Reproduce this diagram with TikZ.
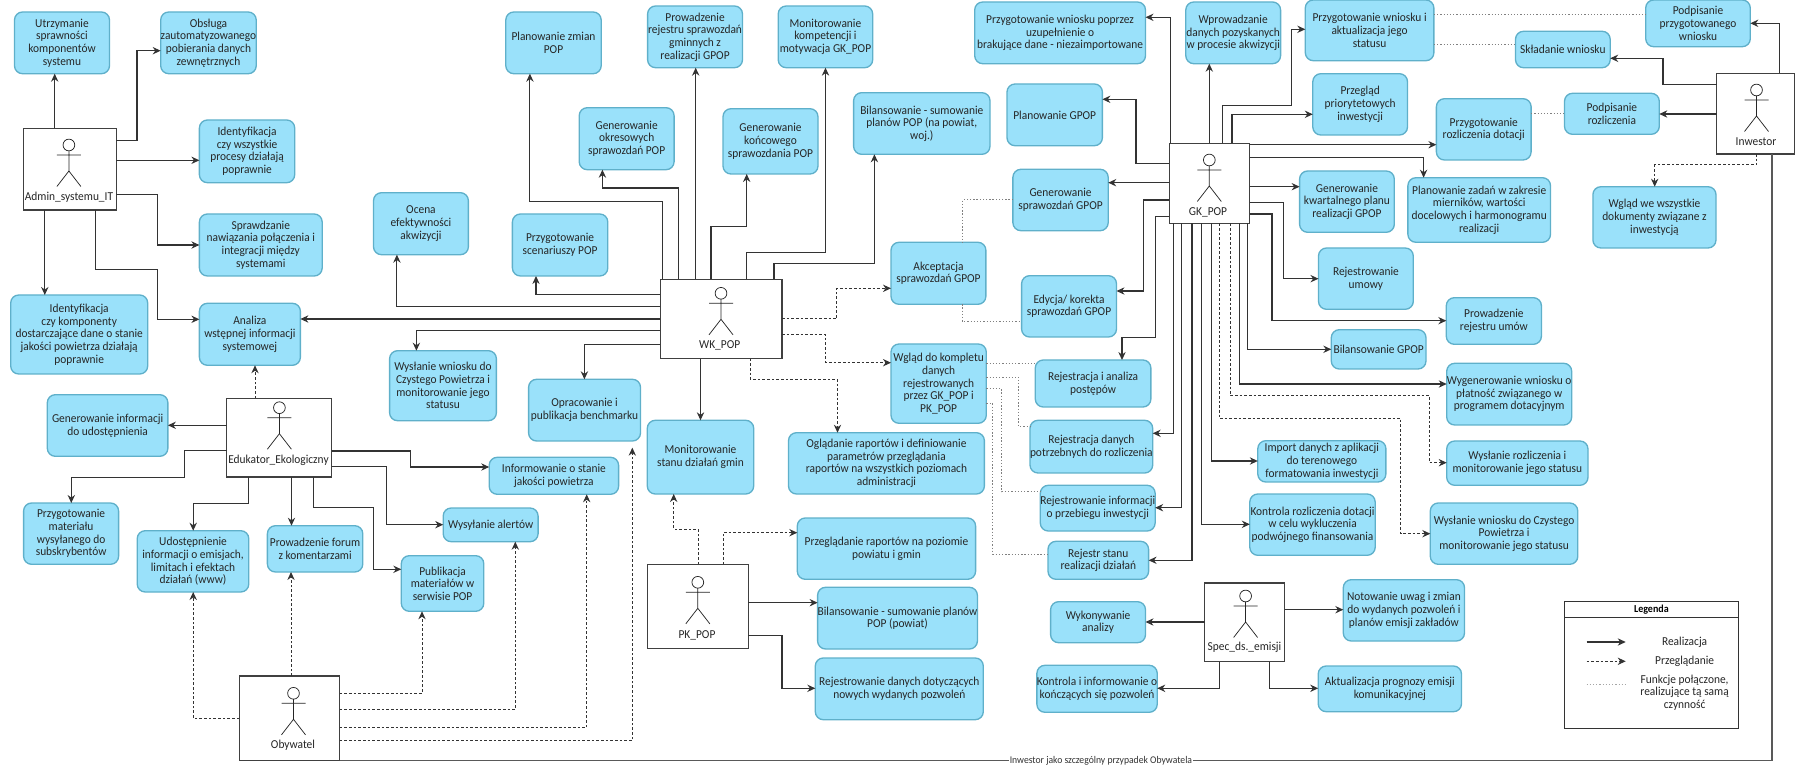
\documentclass[tikz,border=0pt]{standalone}
\usepackage{fontspec}
\setmainfont{Carlito}[FakeStretch=0.94]
\usetikzlibrary{arrows.meta}
\definecolor{ucfill}{HTML}{9AE1FA}
\definecolor{ucline}{HTML}{5FB0CA}
\definecolor{conn}{HTML}{333333}
\tikzset{
  ucbox/.style={draw=ucline,fill=ucfill,line width=1pt,rounded corners=6pt,align=center,inner sep=0pt,outer sep=0pt,text=black!85,
    font=\fontsize{9.1}{9.5}\selectfont,anchor=north west},
  actorbox/.style={draw=black!75,fill=white,line width=1pt,inner sep=0pt,outer sep=0pt,anchor=north west},
  actorname/.style={inner sep=0pt,font=\fontsize{9.1}{9.5}\selectfont,text=black!85},
  fig/.style={draw=black!85,line width=.55pt,fill=none},
  real/.style={draw=conn,line width=.8pt,-{Stealth[length=6pt,width=5.5pt]}},
  view/.style={draw=conn,line width=.75pt,dash pattern=on 2pt off 1.5pt,-{Stealth[length=6pt,width=5.5pt]}},
  link/.style={draw=black!50,line width=.75pt,dash pattern=on 1pt off 1.4pt},
  assoc/.style={draw=black!65,line width=1pt},
}
\newcommand\uc[6]{%
  \pgfmathsetmacro\ww{(#4-#2)*0.75}\pgfmathsetmacro\hh{(#5-#3)*0.75}%
  \node[ucbox,minimum width=\ww pt,minimum height=\hh pt] (#1) at (#2,#3) {#6};}
\newcommand\actor[9]{%
  \pgfmathsetmacro\ww{(#4-#2)*0.75}\pgfmathsetmacro\hh{(#5-#3)*0.75}%
  \node[actorbox,minimum width=\ww pt,minimum height=\hh pt] (#1) at (#2,#3) {};
  \draw[fig] (#6,#7) circle[radius=4.4pt];
  \draw[fig] (#6-12,#7+10) -- (#6+12,#7+10) (#6,#7+5.8) -- (#6,#7+26) (#6-12,#7+41.5) -- (#6,#7+26) -- (#6+12,#7+41.5);
  \actorlabel{#1}{#8}{#9}}
\newcommand\actorlabel[4]{\node[actorname] (#1-label) at (#2,#3) {#4};}
\begin{document}
\begin{tikzpicture}[x=0.75pt,y=-0.75pt]
\useasboundingbox (0,0) rectangle (1796,766);
% left group
\uc{utrz}{14.5}{12}{109.5}{73.7}{Utrzymanie\\sprawności\\komponentów\\systemu}
\uc{obsl}{160.7}{12}{255.6}{73.7}{Obsługa\\zautomatyzowanego\\pobierania danych\\zewnętrznych}
\uc{proc}{199.4}{120}{294.7}{182.7}{Identyfikacja\\czy wszystkie\\procesy działają\\poprawnie}
\uc{spraw}{199.4}{214}{322.2}{276}{Sprawdzanie\\nawiązania połączenia i\\integracji między\\systemami}
\uc{komp}{10.7}{295}{147.7}{374}{Identyfikacja\\czy komponenty\\dostarczające dane o stanie\\jakości powietrza działają\\poprawnie}
\uc{anal}{199.4}{303.3}{300.4}{365.3}{Analiza\\wstępnej informacji\\systemowej}
\uc{ocena}{373.5}{192.7}{468.4}{254.7}{Ocena\\efektywności\\akwizycji}
\uc{wyscp}{389.6}{350.7}{496.4}{420.7}{Wysłanie wniosku do\\Czystego Powietrza i\\monitorowanie jego\\statusu}
\uc{geninf}{47.3}{394.7}{167.9}{456.3}{Generowanie informacji\\do udostępnienia}
\uc{mater}{23.6}{503}{118.6}{564.3}{Przygotowanie\\materiału\\wysyłanego do\\subskrybentów}
\uc{udost}{137.2}{530.7}{248.8}{592}{Udostępnienie\\informacji o emisjach,\\limitach i efektach\\działań (www)}
\uc{forum}{267.4}{525.7}{362.8}{572}{Prowadzenie forum\\z komentarzami}
\uc{alerty}{443.2}{508}{538.1}{541.7}{Wysyłanie alertów}
\uc{publ}{401.3}{555.7}{483.8}{611.3}{Publikacja\\materiałów w\\serwisie POP}
\uc{inform}{489.2}{457.3}{618.6}{494.3}{Informowanie o stanie\\jakości powietrza}
\uc{bench}{528.6}{379.3}{640.5}{441}{Opracowanie i\\publikacja benchmarku}
% WK group
\uc{plzm}{505.8}{12}{601.2}{73.7}{Planowanie zmian\\POP}
\uc{scen}{512.4}{214}{607.8}{276}{Przygotowanie\\scenariuszy POP}
\uc{rejspr}{647.6}{6}{742.5}{67.7}{Prowadzenie\\rejestru sprawozdań\\gminnych z\\realizacji GPOP}
\uc{monkom}{778.2}{6}{872.7}{67.7}{Monitorowanie\\kompetencji i\\motywacja GK\_POP}
\uc{okres}{579.2}{107.7}{674.1}{169.7}{Generowanie\\okresowych\\sprawozdań POP}
\uc{konc}{723}{108.7}{818}{174}{Generowanie\\końcowego\\sprawozdania POP}
\uc{bilpop}{853.6}{92.7}{990}{154.3}{Bilansowanie - sumowanie\\planów POP (na powiat,\\woj.)}
\uc{akcept}{891}{242.3}{985.9}{304.3}{Akceptacja\\sprawozdań GPOP}
\uc{wglad}{891}{344}{986.3}{423.3}{Wgląd do kompletu\\danych\\rejestrowanych\\przez GK\_POP i\\PK\_POP}
\uc{monst}{647.3}{420.3}{753.7}{494}{Monitorowanie\\stanu działań gmin}
\uc{oglad}{788.5}{432.7}{984.4}{494}{Oglądanie raportów i definiowanie\\parametrów przeglądania\\raportów na wszystkich poziomach\\administracji}
\uc{przegl}{797.3}{518}{975.6}{579.3}{Przeglądanie raportów na poziomie\\powiatu i gmin}
\uc{bilpow}{817.6}{587.3}{975.6}{649}{Bilansowanie - sumowanie planów\\POP (powiat)}
\uc{rejpoz}{815.3}{658}{983.3}{719.7}{Rejestrowanie danych dotyczących\\nowych wydanych pozwoleń}
% GK group
\uc{wnpop}{974.7}{2}{1145.5}{63.7}{Przygotowanie wniosku poprzez\\uzupełnienie o\\brakujące dane - niezaimportowane}
\uc{plgpop}{1007}{84}{1102.4}{145.7}{Planowanie GPOP}
\uc{genspr}{1012.9}{169.3}{1108.2}{230.7}{Generowanie\\sprawozdań GPOP}
\uc{edyc}{1021.6}{275.7}{1116.5}{337}{Edycja/ korekta\\sprawozdań GPOP}
\uc{rejan}{1035.3}{360}{1150.9}{407}{Rejestracja i analiza\\postępów}
\uc{rejdan}{1030}{420.3}{1151.3}{473}{Rejestracja danych\\potrzebnych do rozliczenia}
\uc{rejinf}{1040.3}{485.3}{1153.6}{531}{Rejestrowanie informacji\\o przebiegu inwestycji}
\uc{rejst}{1048}{541.3}{1148.6}{579.3}{Rejestr stanu\\realizacji działań}
\uc{wprow}{1185.8}{2}{1280.6}{63.7}{Wprowadzanie\\danych pozyskanych\\w procesie akwizycji}
\uc{wnakt}{1305.3}{0}{1433.9}{60.7}{Przygotowanie wniosku i\\aktualizacja jego\\statusu}
\uc{prio}{1312.8}{73.7}{1407.5}{135}{Przegląd\\priorytetowych\\inwestycji}
\uc{rozl}{1436.4}{98.7}{1531.1}{160}{Przygotowanie\\rozliczenia dotacji}
\uc{kwart}{1299.6}{171}{1394.3}{232.3}{Generowanie\\kwartalnego planu\\realizacji GPOP}
\uc{plzad}{1407.9}{177.7}{1550.5}{242.3}{Planowanie zadań w zakresie\\mierników, wartości\\docelowych i harmonogramu\\realizacji}
\uc{umowa}{1318.5}{248}{1413.3}{309.3}{Rejestrowanie\\umowy}
\uc{rejum}{1446.3}{297.7}{1541.4}{344.3}{Prowadzenie\\rejestru umów}
\uc{bilgp}{1331.3}{329.7}{1426}{369}{Bilansowanie GPOP}
\uc{wygen}{1446.7}{363.3}{1571.7}{425}{Wygenerowanie wniosku o\\płatność związanego w\\programem dotacyjnym}
\uc{wysroz}{1446.7}{441}{1588}{485.3}{Wysłanie rozliczenia i\\monitorowanie jego statusu}
\uc{wysgk}{1430.3}{503}{1577.8}{564.3}{Wysłanie wniosku do Czystego\\Powietrza i\\monitorowanie jego statusu}
\uc{impo}{1257.8}{440.7}{1385.9}{482}{Import danych z aplikacji\\do terenowego\\formatowania inwestycji}
\uc{kontr}{1249.8}{494}{1375.2}{555.3}{Kontrola rozliczenia dotacji\\w celu wykluczenia\\podwójnego finansowania}
% Inwestor group
\uc{podp}{1645.7}{0}{1750.3}{46.7}{Podpisanie\\przygotowanego\\wniosku}
\uc{skla}{1515.5}{31.3}{1610.2}{67.7}{Składanie wniosku}
\uc{podroz}{1564.5}{93.3}{1659.3}{134.3}{Podpisanie\\rozliczenia}
\uc{wgwsz}{1592.9}{186.7}{1716}{248}{Wgląd we wszystkie\\dokumenty związane z\\inwestycją}
% Spec group
\uc{wyko}{1050.6}{601.7}{1145.5}{642.7}{Wykonywanie\\analizy}
\uc{kinf}{1036.9}{665.3}{1157}{712.3}{Kontrola i informowanie o\\kończących się pozwoleń}
\uc{noto}{1343.3}{579.7}{1464.5}{641}{Notowanie uwag i zmian\\do wydanych pozwoleń i\\planów emisji zakładów}
\uc{aktu}{1318.2}{666}{1461.5}{711.7}{Aktualizacja prognozy emisji\\komunikacyjnej}
% actors
\actor{admin}{23.7}{128.3}{116.3}{210}{68.9}{145}{69}{197.7}{Admin\_systemu\_IT}
\actor{eduk}{226.8}{398.3}{331.7}{477}{279.4}{407.7}{278.5}{460}{Edukator\_Ekologiczny}
\actor{wk}{660.4}{279.3}{781.9}{358.7}{721}{293.3}{719.7}{345.7}{WK\_POP}
\actor{pk}{647.7}{564.3}{748.3}{648.7}{697.8}{582.3}{697}{635}{PK\_POP}
\actor{gk}{1169.4}{143.3}{1249.7}{223.3}{1209.3}{160}{1208}{212.3}{GK\_POP}
\actor{inw}{1716.5}{73.3}{1794.5}{154}{1756.5}{90}{1756}{142}{Inwestor}
\actor{spec}{1204.6}{583}{1284.8}{661.7}{1245.6}{596}{1244.5}{647.7}{Spec\_ds.\_emisji}
\actor{oby}{239.2}{676}{339.6}{760.7}{293.5}{693.3}{293}{745.7}{Obywatel}
% Admin connectors
\draw[real] (admin.north -| 54.7,0) -- (utrz.south -| 54.7,0);
\draw[real] (admin.east |- 0,140.7) -- (137,140.7) |- (obsl.west |- 0,50.7);
\draw[real] (admin.east |- 0,160.3) -- (proc.west |- 0,160.3);
\draw[real] (admin.east |- 0,194.3) -- (157.7,194.3) |- (spraw.west |- 0,245);
\draw[real] (admin.south -| 44.8,0) -- (komp.north -| 44.8,0);
\draw[real] (admin.south -| 95.7,0) |- (157.7,269.3) |- (anal.west |- 0,319.3);
% WK connectors
\draw[real] (wk.west |- 0,319) -- (anal.east |- 0,319);
\draw[real] (wk.west |- 0,306.7) -| (ocena.south -| 396.9,0);
\draw[real] (wk.west |- 0,294.3) -| (scen.south -| 536,0);
\draw[real] (wk.west |- 0,330.7) -| (wyscp.north -| 416.4,0);
\draw[real] (wk.west |- 0,344.7) -| (bench.north -| 584.4,0);
\draw[real] (wk.north -| 662.5,0) |- (529.9,201.3) -- (plzm.south -| 529.9,0);
\draw[real] (wk.north -| 678.7,0) |- (602.4,188) -- (okres.south -| 602.4,0);
\draw[real] (wk.north -| 695.7,0) -- (rejspr.south -| 695.7,0);
\draw[real] (wk.north -| 711,0) |- (746.7,226.7) -- (konc.south -| 746.7,0);
\draw[real] (wk.north -| 746.7,0) |- (825.5,252.7) -- (monkom.south -| 825.5,0);
\draw[real] (wk.north -| 774,0) |- (874.4,263.3) -- (bilpop.south -| 874.4,0);
\draw[real] (wk.south -| 700.5,0) -- (monst.north -| 700.5,0);
\draw[view] (wk.east |- 0,319) -- (836.7,319) |- (akcept.west |- 0,288.3);
\draw[view] (wk.east |- 0,335) -- (825.9,335) |- (wglad.west |- 0,362.7);
\draw[view] (wk.south -| 750.4,0) |- (837.5,379.3) -- (oglad.north -| 837.5,0);
% PK connectors
\draw[view] (pk.north -| 698.2,0) |- (673.7,529.3) -- (monst.south -| 673.7,0);
\draw[view] (pk.north -| 723,0) |- (przegl.west |- 0,532.7);
\draw[real] (pk.east |- 0,602.7) -- (bilpow.west |- 0,602.7);
\draw[real] (pk.east |- 0,635.7) -- (782,635.7) |- (rejpoz.west |- 0,688.3);
% Edukator connectors
\draw[view] (eduk.north -| 255,0) -- (anal.south -| 255,0);
\draw[real] (eduk.west |- 0,425.3) -- (geninf.east |- 0,425.3);
\draw[real] (eduk.west |- 0,450.3) -- (184.5,450.3) |- (71.3,477.7) -- (mater.north -| 71.3,0);
\draw[real] (eduk.south -| 248.8,0) |- (193.2,503.7) -- (udost.north -| 193.2,0);
\draw[real] (eduk.south -| 291.5,0) -- (forum.north -| 291.5,0);
\draw[real] (eduk.south -| 313.4,0) |- (373.5,507.3) |- (publ.west |- 0,569.3);
\draw[real] (eduk.east |- 0,466.3) -- (386.4,466.3) |- (alerty.west |- 0,524.7);
\draw[real] (eduk.east |- 0,451) -- (410.4,451) |- (inform.west |- 0,467);
% Obywatel connectors
\draw[view] (oby.west |- 0,718.3) -| (udost.south -| 193.2,0);
\draw[view] (oby.north -| 291,0) -- (forum.south -| 291,0);
\draw[view] (oby.east |- 0,693.3) -| (publ.south -| 422,0);
\draw[view] (oby.east |- 0,709.3) -| (alerty.south -| 515.3,0);
\draw[view] (oby.east |- 0,727.7) -| (inform.south -| 586.7,0);
\draw[view,shorten >=5pt] (oby.east |- 0,740.7) -| (bench.south -| 632.3,0);
\draw[assoc] (oby.south east) -- node[pos=0.5315,fill=white,inner sep=0.5pt,font=\fontsize{7.7}{8}\selectfont,text=black!80] (assoclabel) {Inwestor jako szczególny przypadek Obywatela} (1772,760.7) -- (inw.south -| 1772,0);
% GK connectors
\draw[real] (gk.north -| 1170.6,0) |- (wnpop.east |- 0,17.3);
\draw[real] (gk.north -| 1209.3,0) -- (wprow.south -| 1209.3,0);
\draw[real] (gk.north -| 1222.5,0) |- (1291.3,105.7) |- (wnakt.west |- 0,29.3);
\draw[real] (gk.north -| 1232,0) |- (prio.west |- 0,114.3);
\draw[real] (gk.east |- 0,144.7) -- (rozl.west |- 0,144.7);
\draw[real] (gk.east |- 0,157.7) -| (plzad.north -| 1423.6,0);
\draw[real] (gk.east |- 0,186.7) -- (kwart.west |- 0,186.7);
\draw[real] (gk.east |- 0,202.7) -- (1283.9,202.7) |- (umowa.west |- 0,278.7);
\draw[real] (gk.east |- 0,214) -- (1272,214) |- (rejum.west |- 0,320.7);
\draw[real] (gk.south -| 1247.2,0) |- (bilgp.west |- 0,349.3);
\draw[real] (gk.south -| 1239.4,0) |- (wygen.west |- 0,384);
\draw[view] (gk.south -| 1230.4,0) |- (1429.6,396) |- (wysroz.west |- 0,462.7);
\draw[view] (gk.south -| 1219,0) |- (1400.7,418.3) |- (wysgk.west |- 0,533.7);
\draw[real] (gk.south -| 1211.4,0) |- (impo.west |- 0,461);
\draw[real] (gk.south -| 1201.6,0) |- (kontr.west |- 0,524.3);
\draw[real] (gk.south -| 1192,0) |- (rejst.east |- 0,560.3);
\draw[real] (gk.south -| 1181.8,0) |- (rejinf.east |- 0,507.7);
\draw[real] (gk.south -| 1173.3,0) |- (rejdan.east |- 0,433.3);
\draw[real] (gk.west |- 0,216.7) -- (1155.8,216.7) |- (1122,337.3) -- (rejan.north -| 1122,0);
\draw[real] (gk.west |- 0,200) -- (1143.4,200) |- (edyc.east |- 0,291);
\draw[real] (gk.west |- 0,182.7) -- (genspr.east |- 0,182.7);
\draw[real] (gk.west |- 0,163.3) -- (1136,163.3) |- (plgpop.east |- 0,99.3);
% Inwestor connectors
\draw[real] (inw.north -| 1779.2,0) |- (podp.east |- 0,23.3);
\draw[real] (inw.west |- 0,84.7) -- (1663,84.7) |- (skla.east |- 0,58.3);
\draw[real] (inw.west |- 0,114) -- (podroz.east |- 0,114);
\draw[view] (inw.south -| 1756.5,0) |- (1654.7,165) -- (wgwsz.north -| 1654.7,0);
% Spec connectors
\draw[real] (spec.west |- 0,622) -- (wyko.east |- 0,622);
\draw[real] (spec.south -| 1219.8,0) |- (kinf.east |- 0,688.3);
\draw[real] (spec.east |- 0,609.7) -- (noto.west |- 0,609.7);
\draw[real] (spec.south -| 1269.6,0) |- (aktu.west |- 0,688.3);
% dotted links
\draw[link] (genspr.west |- 0,200) -| (akcept.north -| 962.3,0);
\draw[link] (akcept.south -| 962.3,0) |- (edyc.west |- 0,321.7);
\draw[link] (wglad.east |- 0,363.3) -- (rejan.west |- 0,363.3);
\draw[link] (wglad.east |- 0,377.3) -- (1018.9,377.3) |- (rejdan.west |- 0,426.7);
\draw[link] (wglad.east |- 0,388.7) -- (1001.7,388.7) |- (rejinf.west |- 0,491.7);
\draw[link] (wglad.east |- 0,403.3) -- (992.5,403.3) |- (rejst.west |- 0,554);
\draw[link] (wnakt.east |- 0,14.7) -- (podp.west |- 0,14.7);
\draw[link] (wnakt.east |- 0,45) -- (skla.west |- 0,45);
\draw[link] (rozl.east |- 0,114) -- (podroz.west |- 0,114);
% legend
\node[draw=black!80,fill=white,line width=.9pt,inner sep=0pt,outer sep=0pt,minimum width=130.3pt,minimum height=95pt,anchor=north west] (legend) at (1564.5,601.7) {};
\node[draw=black!80,line width=.9pt,inner sep=0pt,outer sep=0pt,minimum width=130.3pt,minimum height=12pt,anchor=north west,font=\bfseries\fontsize{8}{9}\selectfont] (legendtitle) at (1564.5,601.7) {Legenda};
\node[actorname] (lt1) at (1684.6,642.7) {Realizacja};
\node[actorname] (lt2) at (1684.6,661.3) {Przeglądanie};
\node[actorname,align=center] (lt3) at (1684.6,692.5) {Funkcje połączone,\\realizujące tą samą\\czynność};
\coordinate (la1) at (1586.5,642);\coordinate (lb1) at (1625.7,642);
\coordinate (la2) at (1586.5,661.3);\coordinate (lb2) at (1625.7,661.3);
\coordinate (la3) at (1586.5,684);\coordinate (lb3) at (1625.7,684);
\draw[real] (la1) -- (lb1);
\draw[view] (la2) -- (lb2);
\draw[link,draw=black!35] (la3) -- (lb3);
\end{tikzpicture}
\end{document}
